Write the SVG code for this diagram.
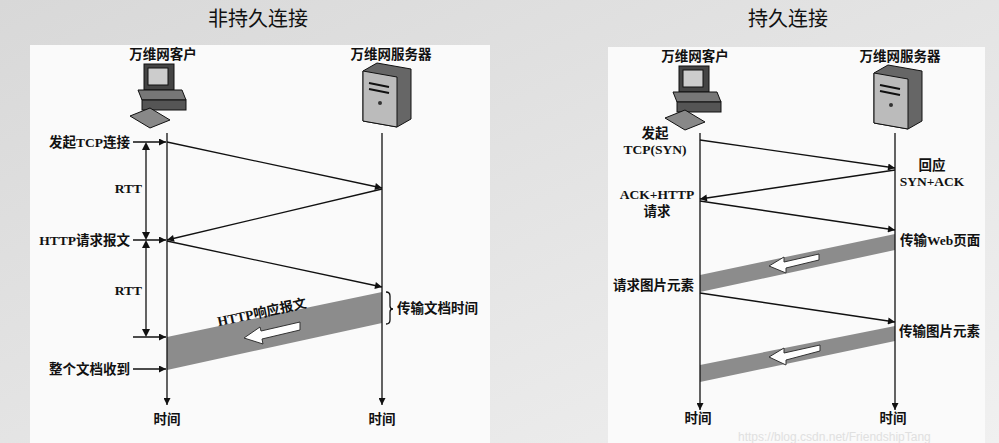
<svg xmlns="http://www.w3.org/2000/svg" width="999" height="443" viewBox="0 0 999 443">
<defs>
<linearGradient id="bg" x1="0" y1="0" x2="1" y2="1"><stop offset="0" stop-color="#d8d8d8"/><stop offset="1" stop-color="#f0f0f0"/></linearGradient>
<marker id="ah" viewBox="0 0 10 10" refX="10" refY="5" markerWidth="9" markerHeight="7" orient="auto" markerUnits="userSpaceOnUse"><path d="M0,0 L10,5 L0,10 z" fill="#111"/></marker>
<marker id="ad" viewBox="0 0 10 10" refX="5" refY="5" markerWidth="8" markerHeight="8" orient="auto-start-reverse" markerUnits="userSpaceOnUse"><path d="M0,0 L10,5 L0,10 z" fill="#111"/></marker>
<g id="pc">
<rect x="14" y="0" width="30" height="26" fill="#444" stroke="#111"/>
<rect x="18" y="4" width="20" height="17" fill="#ccc" stroke="#111"/>
<polygon points="8,26 52,26 56,36 12,36" fill="#777" stroke="#111"/>
<rect x="12" y="36" width="44" height="10" fill="#555" stroke="#111"/>
<polygon points="0,52 20,44 40,56 20,64" fill="#888" stroke="#111"/>
</g>
<g id="srv">
<polygon points="0,8 14,0 48,6 48,56 34,64 0,58" fill="#666" stroke="#111"/>
<polygon points="0,8 34,14 34,64 0,58" fill="#bbb" stroke="#111"/>
<line x1="6" y1="20" x2="26" y2="24" stroke="#111" stroke-width="2"/>
<line x1="6" y1="26" x2="26" y2="30" stroke="#111" stroke-width="2"/>
<circle cx="17" cy="40" r="2" fill="#333"/>
</g>
</defs>
<style>
text{font-family:"Liberation Serif","Noto Sans CJK SC",serif;font-weight:bold;fill:#111;font-size:13.5px}
.t{font-size:20px;font-weight:normal;font-family:"Noto Sans CJK SC",sans-serif}
.ln{stroke:#111;stroke-width:1.3;fill:none}
.band{fill:#8c8c8c}
</style>
<rect width="999" height="443" fill="url(#bg)"/>
<rect x="30" y="45" width="460" height="398" fill="#fafafa"/>
<rect x="608" y="47" width="377" height="396" fill="#fafafa"/>
<text class="t" x="258" y="26" text-anchor="middle">非持久连接</text>
<text class="t" x="788" y="26" text-anchor="middle">持久连接</text>

<g id="client1"><use href="#pc" x="130" y="64"/><text x="163" y="59" text-anchor="middle">万维网客户</text></g>
<g id="server1"><use href="#srv" x="363" y="63"/><text x="391" y="59" text-anchor="middle">万维网服务器</text></g>
<g id="client2"><use href="#pc" x="665" y="66"/><text x="695" y="61" text-anchor="middle">万维网客户</text></g>
<g id="server2"><use href="#srv" x="874" y="65"/><text x="900" y="61" text-anchor="middle">万维网服务器</text></g>

<g id="bands">
<polygon class="band" points="382,292 382,323 167,370 167,337"/>
<polygon points="300,322 300,330 262,339 263,344 244,338 260,327 261,331" fill="#fff" stroke="#333"/>
<polygon class="band" points="895,234 895,250 700,292 700,275"/>
<polygon points="819,254 819,260 786,268 786,273 769,266 784,257 784,262" fill="#fff" stroke="#333"/>
<polygon class="band" points="895,326 895,341 700,382 700,365"/>
<polygon points="820,345 820,351 786,360 786,365 769,357 784,348 784,353" fill="#fff" stroke="#333"/>
</g>

<g id="connectors">
<line class="ln" x1="167" y1="133" x2="167" y2="405" marker-end="url(#ah)"/>
<line class="ln" x1="382" y1="133" x2="382" y2="405" marker-end="url(#ah)"/>
<line class="ln" x1="167" y1="142" x2="382" y2="188" marker-end="url(#ah)"/>
<line class="ln" x1="382" y1="189" x2="167" y2="240" marker-end="url(#ah)"/>
<line class="ln" x1="167" y1="241" x2="382" y2="287" marker-end="url(#ah)"/>
<line class="ln" x1="133" y1="142" x2="166" y2="142" marker-end="url(#ah)"/>
<line class="ln" x1="133" y1="240" x2="166" y2="240" marker-end="url(#ah)"/>
<line class="ln" x1="133" y1="337" x2="166" y2="337" marker-end="url(#ah)"/>
<line class="ln" x1="133" y1="369" x2="166" y2="369" marker-end="url(#ah)"/>
<line class="ln" x1="146" y1="146" x2="146" y2="236" marker-start="url(#ad)" marker-end="url(#ad)"/>
<line class="ln" x1="146" y1="244" x2="146" y2="333" marker-start="url(#ad)" marker-end="url(#ad)"/>
<path class="ln" d="M386,292 q4,0 4,4 v10 q0,3 3,3 q-3,0 -3,3 v8 q0,4 -4,4"/>
<line class="ln" x1="700" y1="133" x2="700" y2="410" marker-end="url(#ah)"/>
<line class="ln" x1="895" y1="133" x2="895" y2="410" marker-end="url(#ah)"/>
<line class="ln" x1="700" y1="140" x2="895" y2="168" marker-end="url(#ah)"/>
<line class="ln" x1="895" y1="170" x2="700" y2="199" marker-end="url(#ah)"/>
<line class="ln" x1="700" y1="201" x2="895" y2="230" marker-end="url(#ah)"/>
<line class="ln" x1="700" y1="293" x2="895" y2="322" marker-end="url(#ah)"/>
</g>

<g id="labels">
<text x="130" y="147" text-anchor="end">发起TCP连接</text>
<text x="130" y="245" text-anchor="end">HTTP请求报文</text>
<text x="142" y="193" text-anchor="end">RTT</text>
<text x="142" y="295" text-anchor="end">RTT</text>
<text x="130" y="374" text-anchor="end">整个文档收到</text>
<text x="397" y="313">传输文档时间</text>
<text x="262" y="317" text-anchor="middle" transform="rotate(-12 262 313)">HTTP响应报文</text>
<text x="167" y="424" text-anchor="middle">时间</text>
<text x="382" y="424" text-anchor="middle">时间</text>
<text x="655" y="138" text-anchor="middle">发起</text>
<text x="655" y="154" text-anchor="middle">TCP(SYN)</text>
<text x="932" y="170" text-anchor="middle">回应</text>
<text x="932" y="186" text-anchor="middle">SYN+ACK</text>
<text x="657" y="199" text-anchor="middle">ACK+HTTP</text>
<text x="657" y="216" text-anchor="middle">请求</text>
<text x="900" y="245">传输Web页面</text>
<text x="694" y="290" text-anchor="end">请求图片元素</text>
<text x="899" y="336">传输图片元素</text>
<text x="698" y="423" text-anchor="middle">时间</text>
<text x="893" y="423" text-anchor="middle">时间</text>
<text x="738" y="441" style="font-family:'Liberation Sans',sans-serif;font-weight:normal;fill:#e0e0e0;font-size:12px">https://blog.csdn.net/FriendshipTang</text>
</g>
</svg>
